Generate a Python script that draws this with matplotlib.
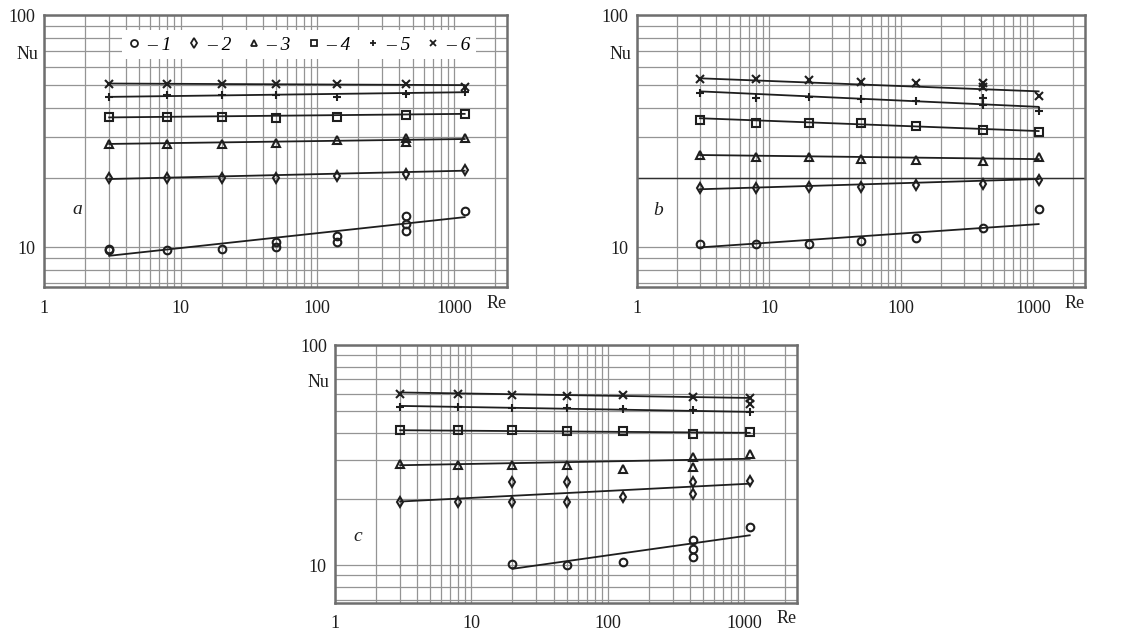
import numpy as np
import matplotlib
matplotlib.use('Agg')
import matplotlib.pyplot as plt
from matplotlib.lines import Line2D
from matplotlib.ticker import NullFormatter, LogLocator

plt.rcParams['font.family'] = ['Liberation Serif', 'DejaVu Serif']

# Re at which the runs were made
re_a = [3, 8, 20, 50, 140, 450, 1200]
re_bc = [3, 8, 20, 50, 130, 420, 1100]

# panel a
a_nu2 = [20.0, 20.0, 19.9, 20.0, 20.4, 20.7, 21.5]
a_nu3 = [27.8, 28.0, 28.0, 28.2, 29.0, 29.6, 29.6]
a_nu4 = [36.3, 36.5, 36.3, 36.0, 36.5, 37.0, 37.6]
a_nu5 = [44.4, 45.2, 45.2, 45.2, 44.4, 45.9, 46.6]
a_nu6 = [50.4, 50.4, 50.4, 50.4, 50.4, 50.4, 49.0]
a_re1 = [3, 3, 8, 20, 50, 50, 140, 140, 450, 450, 450, 1200]
a_nu1 = [9.8, 9.7, 9.7, 9.85, 10.0, 10.5, 10.6, 11.2, 11.8, 12.6, 13.7, 14.4]
a_re_extra = [450]
a_nu3_extra = [28.4]
a_fit_re = [3, 1200]
a_fit = [[9.2, 13.5], [19.7, 21.4], [27.9, 29.3], [36.3, 37.6], [44.5, 46.6], [50.8, 50.0]]

# panel b
b_nu1 = [10.3, 10.3, 10.3, 10.7, 11.0, 12.1, 14.6]
b_nu2 = [18.1, 18.0, 18.2, 18.2, 18.5, 18.8, 19.6]
b_nu3 = [24.9, 24.4, 24.6, 24.1, 23.8, 23.6, 24.4]
b_nu4 = [35.3, 34.2, 34.4, 34.2, 33.3, 32.0, 31.3]
b_nu5 = [46.3, 44.1, 44.4, 43.4, 42.7, 40.9, 38.6]
b_nu6 = [53.1, 53.0, 52.6, 51.4, 51.0, 51.0, 44.8]
b_re_extra = [420]
b_nu5_extra = [44.0]
b_nu6_extra = [49.0]
b_fit_re = [3, 1100]
b_fit = [[10.0, 12.6], [17.8, 19.7], [25.0, 24.0], [36.0, 31.7], [47.0, 40.3], [53.5, 47.0]]

# panel c
c_re1 = [20, 50, 130, 420, 420, 420, 1100]
c_nu1 = [10.2, 10.0, 10.4, 10.9, 11.9, 13.0, 14.9]
c_nu2 = [19.5, 19.5, 19.5, 19.4, 20.4, 21.2, 24.1]
c_nu3 = [29.0, 28.5, 28.5, 28.5, 27.5, 28.0, 32.2]
c_nu4 = [41.1, 41.1, 41.1, 40.6, 40.6, 39.7, 40.4]
c_nu5 = [52.5, 52.5, 51.6, 51.6, 51.2, 50.7, 49.5]
c_nu6 = [60.3, 60.3, 59.6, 58.8, 59.6, 58.3, 57.3]
c_re2_extra = [20, 50, 420]
c_nu2_extra = [23.9, 23.9, 23.9]
c_nu3_extra = [31.0]
c_nu6_extra = [54.3]
c_fit_re = [3, 1100]
c_fit1_re = [20, 1100]
c_fit = [[9.65, 13.7], [19.5, 23.5], [28.5, 30.5], [41.1, 40.0], [53.0, 49.8], [61.0, 57.6]]

markers = ['o', 'd', '^', 's', '+', 'x']
labels = ['– 1', '– 2', '– 3', '– 4', '– 5', '– 6']
ink = '#1e1e1e'


def pts(ax, x, y, k):
    ax.plot(x, y, ls='none', marker=markers[k], ms=5.5,
            mfc='none', mec=ink, mew=1.5, zorder=3)


def setup(ax, letter, lx, ly):
    ax.set_xscale('log')
    ax.set_yscale('log')
    ax.set_xlim(1, 2450)
    ax.set_ylim(6.75, 100)
    ax.xaxis.set_minor_locator(LogLocator(subs=np.arange(2, 10)))
    ax.yaxis.set_minor_locator(LogLocator(subs=np.arange(2, 10)))
    ax.grid(True, which='both', color='#949494', lw=0.9)
    ax.set_axisbelow(True)
    ax.set_xticks([1, 10, 100, 1000])
    ax.set_xticklabels(['1', '10', '100', '1000'])
    ax.set_yticks([10, 100])
    ax.set_yticklabels(['10', '100'])
    ax.xaxis.set_minor_formatter(NullFormatter())
    ax.yaxis.set_minor_formatter(NullFormatter())
    ax.tick_params(which='both', length=0, labelsize=13, colors=ink)
    ax.tick_params(axis='x', pad=9)
    ax.tick_params(axis='y', pad=6)
    for s in ax.spines.values():
        s.set_color('#6e6e6e')
        s.set_linewidth(1.8)
    ax.text(1.0, -0.062, 'Re', transform=ax.transAxes, ha='right', va='center',
            fontsize=13, color=ink)
    ax.text(-0.013, 68, 'Nu', transform=ax.get_yaxis_transform(), ha='right',
            va='center', fontsize=13, color=ink)
    ax.text(lx, ly, letter, transform=ax.transAxes, ha='center', va='center',
            fontsize=14, style='italic', color=ink)


fig = plt.figure(figsize=(11.36, 6.35), dpi=100)
ax_a = fig.add_axes([0.0387, 0.548, 0.4076, 0.428])
ax_b = fig.add_axes([0.5607, 0.548, 0.394, 0.428])
ax_c = fig.add_axes([0.295, 0.0504, 0.4067, 0.406])

# a
setup(ax_a, 'a', 0.071, 0.287)
for k in range(6):
    ax_a.plot(a_fit_re, a_fit[k], color=ink, lw=1.3, zorder=2)
pts(ax_a, a_re1, a_nu1, 0)
for k, nu in enumerate([a_nu2, a_nu3, a_nu4, a_nu5, a_nu6], start=1):
    pts(ax_a, re_a, nu, k)
pts(ax_a, a_re_extra, a_nu3_extra, 2)

handles = [Line2D([], [], ls='none', marker=m, ms=5, mfc='none', mec=ink, mew=1.3)
           for m in markers]
leg = ax_a.legend(handles, labels, ncol=6, loc='upper left',
                  bbox_to_anchor=(0.168, 0.945), frameon=True, fancybox=False,
                  framealpha=1, facecolor='white', edgecolor='none',
                  handlelength=0.7, handletextpad=0.3, columnspacing=0.82,
                  borderpad=0.3, borderaxespad=0,
                  prop={'family': 'Liberation Serif', 'style': 'italic', 'size': 14})
leg.set_zorder(5)

# b
setup(ax_b, 'b', 0.047, 0.28)
ax_b.axhline(20, color='#303030', lw=1.0, zorder=1.5)
for k in range(6):
    ax_b.plot(b_fit_re, b_fit[k], color=ink, lw=1.3, zorder=2)
for k, nu in enumerate([b_nu1, b_nu2, b_nu3, b_nu4, b_nu5, b_nu6]):
    pts(ax_b, re_bc, nu, k)
pts(ax_b, b_re_extra, b_nu5_extra, 4)
pts(ax_b, b_re_extra, b_nu6_extra, 5)

# c
setup(ax_c, 'c', 0.048, 0.256)
ax_c.plot(c_fit1_re, c_fit[0], color=ink, lw=1.3, zorder=2)
for k in range(1, 6):
    ax_c.plot(c_fit_re, c_fit[k], color=ink, lw=1.3, zorder=2)
pts(ax_c, c_re1, c_nu1, 0)
for k, nu in enumerate([c_nu2, c_nu3, c_nu4, c_nu5, c_nu6], start=1):
    pts(ax_c, re_bc, nu, k)
pts(ax_c, c_re2_extra, c_nu2_extra, 1)
pts(ax_c, [420], c_nu3_extra, 2)
pts(ax_c, [1100], c_nu6_extra, 5)

fig.savefig('out.png', dpi=100)
